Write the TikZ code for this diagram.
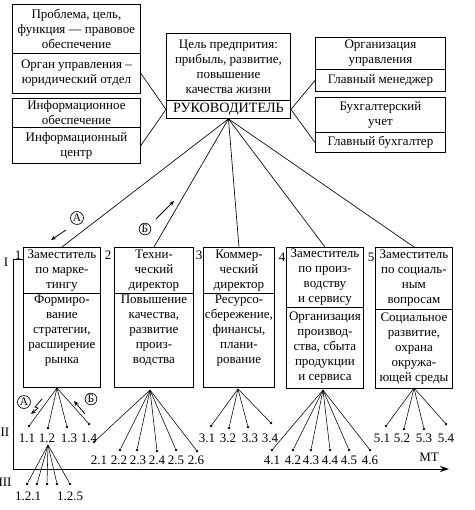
\documentclass[tikz,border=0pt]{standalone}
\usepackage{fontspec}
\setmainfont{Liberation Serif}
\usetikzlibrary{arrows.meta}
\newcommand\bxt[4]{\parbox[c][#2pt][#3]{#1pt}{\centering #4}}
\begin{document}
\begin{tikzpicture}[x=1pt,y=-1pt,
  box/.style={draw, line width=0.9pt, inner sep=0pt, anchor=north west, font=\fontsize{13}{15}\selectfont},
  big/.style={draw, line width=0.9pt, inner sep=0pt, anchor=north west, font=\fontsize{14.2}{16}\selectfont},
  link/.style={line width=0.65pt},
  fan/.style={line width=0.55pt},
  dot/.style={circle, fill, inner sep=0pt, minimum size=2.8pt},
  lbl/.style={inner sep=0pt, font=\fontsize{13}{14}\selectfont},
  num/.style={inner sep=0pt, font=\fontsize{13}{14}\selectfont},
  circ/.style={circle, draw, line width=0.65pt, inner sep=0.6pt, font=\fontsize{11.5}{12}\selectfont},
  arr/.style={line width=0.75pt, -{Stealth[length=5pt,width=4pt]}}
]
\useasboundingbox (0,0) rectangle (474,510);
% top left boxes
\node[box] (la1) at (12,4) {\bxt{128}{49}{c}{Проблема, цель,\\ функция --- правовое\\ обеспечение}};
\node[box] (la2) at (12,53) {\bxt{128}{40}{c}{Орган управления --\\ юридический отдел}};
\node[box] (lb1) at (12,98) {\bxt{128}{29}{c}{Информационное\\ обеспечение}};
\node[box] (lb2) at (12,127) {\bxt{128}{36}{c}{Информационный\\ центр}};
% center
\node[box] (c1) at (166,33) {\bxt{124}{67}{c}{Цель предпрития:\\ прибыль, развитие,\\ повышение\\ качества жизни}};
\node[big] (c2) at (166,100) {\bxt{124}{18}{c}{РУКОВОДИТЕЛЬ}};
% right boxes
\node[box] (ra1) at (315,37) {\bxt{130}{32}{c}{Организация\\ управления}};
\node[box] (ra2) at (315,69) {\bxt{130}{22}{c}{Главный менеджер}};
\node[box] (rb1) at (315,97) {\bxt{130}{35}{c}{Бухгалтерский\\ учет}};
\node[box] (rb2) at (315,132) {\bxt{130}{20}{c}{Главный бухгалтер}};
% level boxes
\node[box] (u1) at (23,247) {\bxt{77}{46}{c}{Заместитель\\ по марке-\\ тингу}};
\node[box] (b1) at (23,293) {\bxt{77}{94}{t}{\vspace*{2pt}Формиро-\\ вание\\ стратегии,\\ расширение\\ рынка}};
\node[box] (u2) at (114,247) {\bxt{79}{46}{c}{Техни-\\ ческий\\ директор}};
\node[box] (b2) at (114,293) {\bxt{79}{94}{t}{\vspace*{2pt}Повышение\\ качества,\\ развитие\\ произ-\\ водства}};
\node[box] (u3) at (203,247) {\bxt{71}{46}{c}{Коммер-\\ ческий\\ директор}};
\node[box] (b3) at (203,293) {\bxt{71}{94}{t}{\vspace*{2pt}Ресурсо-\\ сбережение,\\ финансы,\\ плани-\\ рование}};
\node[box] (u4) at (286,247) {\bxt{77}{60}{c}{Заместитель\\ по произ-\\ водству\\ и сервису}};
\node[box] (b4) at (286,307) {\bxt{77}{81}{c}{Организация\\ производ-\\ ства, сбыта\\ продукции\\ и сервиса}};
\node[box] (u5) at (375,247) {\bxt{77}{62}{c}{Заместитель\\ по социаль-\\ ным\\ вопросам}};
\node[box] (b5) at (375,309) {\bxt{77}{79}{c}{Социальное\\ развитие,\\ охрана\\ окружа-\\ ющей среды}};
% numbers
\node[num] (n1) at (18,255) {1};
\node[num] (n2) at (108,255) {2};
\node[num] (n3) at (199,255) {3};
\node[num] (n4) at (282,257) {4};
\node[num] (n5) at (371,257) {5};
\node[num] (lI) at (6,262) {I};
\node[num] (lII) at (5,432) {II};
\node[num] (lIII) at (5,482) {III};
% connectors top
\draw[link] (la2.east) -- (c2.west);
\draw[link] (lb2.east) -- (c2.west);
\draw[link] (c2.east) -- (ra2.west);
\draw[link] (c2.east) -- (rb2.west);
\foreach \t in {u1,u2,u3,u4,u5} \draw[link] (c2.south) -- (\t.north);
% A / B arrows
\node[circ] (cA) at (77,218) {А};
\coordinate (aA1) at (66,230); \coordinate (aA2) at (51,240);
\draw[arr] (aA1) -- (aA2);
\node[circ] (cB) at (145,229) {Б};
\coordinate (aB1) at (156,219); \coordinate (aB2) at (174,201);
\draw[arr] (aB1) -- (aB2);
% bracket and MT arrow
\coordinate (br0) at (13,259);
\coordinate (br1) at (13,469);
\coordinate (br2) at (449,469);
\draw[line width=0.9pt, -{Stealth[length=9pt,width=6pt]}] (u1.west |- br0) -- (br0) -- (br1) -- (br2);
\node[lbl] (mt) at (429,457) {МТ};
% fan 1
\coordinate (f1) at (57,388);
\foreach \n/\x/\y in {11/29/426, 12/48/428, 13/67/427, 14/89/424}{
  \node[dot] (d\n) at (\x,\y) {};
  \draw[fan] (f1) -- (d\n);
}
\node[lbl] (t11) at (27,438) {1.1};
\node[lbl] (t12) at (47,438) {1.2};
\node[lbl] (t13) at (69,438) {1.3};
\node[lbl] (t14) at (89,438) {1.4};
\node[circ] (cA2) at (24,402) {А};
\coordinate (z1) at (42,399); \coordinate (z2) at (35,407); \coordinate (z3) at (38,408);
\coordinate (z4) at (31,414);
\draw[arr] (z1) -- (z2) -- (z3) -- (z4);
\node[circ] (cB2) at (91,399) {Б};
\coordinate (y1) at (85,414); \coordinate (y2) at (74,401);
\draw[arr] (y1) -- (y2);
% fan 1.2
\coordinate (f12) at (48,445);
\foreach \n/\x in {1/27,2/37,3/47,4/57,5/70}{
  \node[dot] (e\n) at (\x,484) {};
  \draw[fan] (f12) -- (e\n);
}
\node[lbl] (t121) at (28,496) {1.2.1};
\node[lbl] (t125) at (70,496) {1.2.5};
% fan 2
\coordinate (f2) at (150,390);
\foreach \n/\x/\y in {1/94/442, 2/120/450, 3/137/450, 4/157/451, 5/176/450, 6/197/451}{
  \node[dot] (g\n) at (\x,\y) {};
  \draw[fan] (f2) -- (g\n);
}
\foreach \n/\x in {1/99,2/119,3/138,4/157,5/176,6/196}{
  \node[lbl] (tg\n) at (\x,460) {2.\n};
}
% fan 3
\coordinate (f3) at (238,389);
\foreach \n/\x/\y/\lx in {1/211/426/207, 2/229/428/228, 3/248/427/250, 4/271/423/270}{
  \node[dot] (h\n) at (\x,\y) {};
  \draw[fan] (f3) -- (h\n);
  \node[lbl] (th\n) at (\lx,438) {3.\n};
}
% fan 4
\coordinate (f4) at (323,390);
\foreach \n/\x in {1/272,2/293,3/311,4/330,5/349,6/370}{
  \node[dot] (k\n) at (\x,450) {};
  \draw[fan] (f4) -- (k\n);
  \node[lbl] (tk\n) at (\x,460) {4.\n};
}
% fan 5
\coordinate (f5) at (414,388);
\foreach \n/\x/\y/\lx in {1/386/426/382, 2/404/429/402, 3/424/429/424, 4/446/424/446}{
  \node[dot] (m\n) at (\x,\y) {};
  \draw[fan] (f5) -- (m\n);
  \node[lbl] (tm\n) at (\lx,438) {5.\n};
}
\end{tikzpicture}
\end{document}
